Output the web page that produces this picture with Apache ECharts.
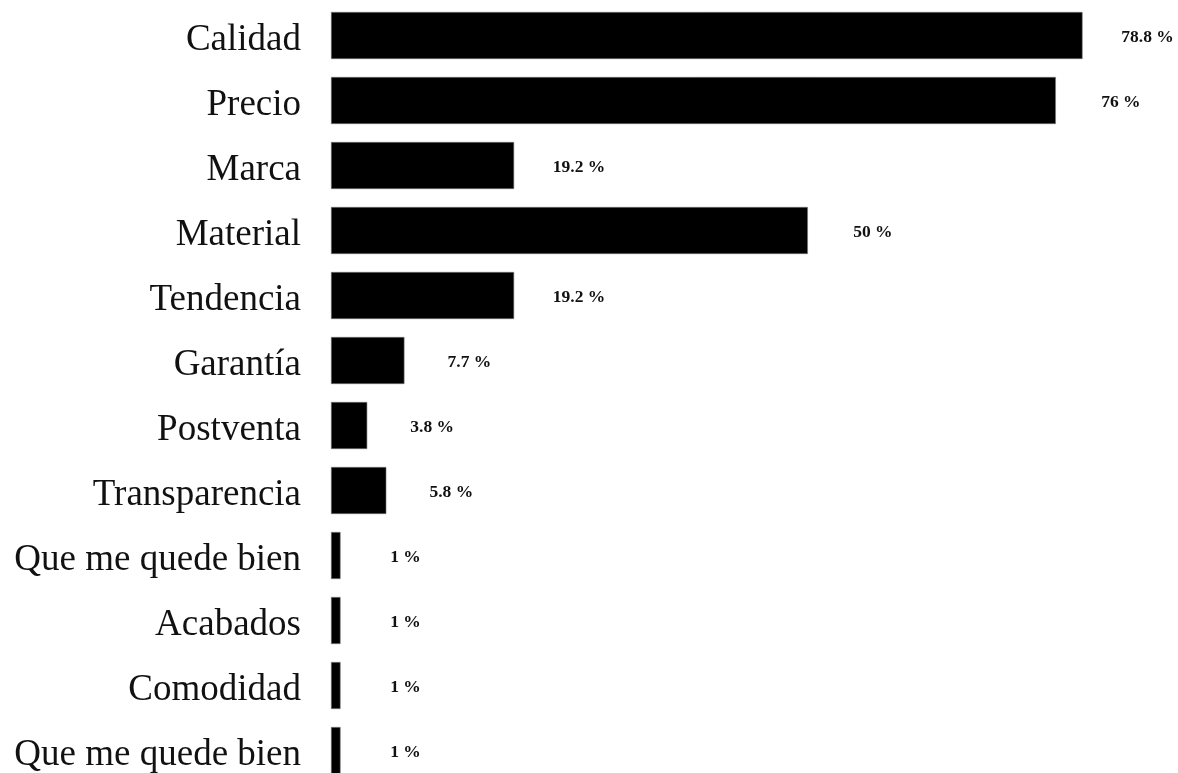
<!DOCTYPE html>
<html>
<head>
<meta charset="utf-8">
<script src="https://cdn.jsdelivr.net/npm/echarts@6/dist/echarts.min.js"></script>
<style>
  html, body { margin: 0; padding: 0; background: #fff; overflow: hidden; height: 773px; }
  /* the last row runs past the bottom edge, so the canvas is taller than the page */
  #chart { width: 1178px; height: 790px; }
</style>
</head>
<body>
<div id="chart"></div>
<script>
// Factores de compra (top to bottom)
const categories = [
  'Calidad', 'Precio', 'Marca', 'Material', 'Tendencia', 'Garantía',
  'Postventa', 'Transparencia', 'Que me quede bien', 'Acabados',
  'Comodidad', 'Que me quede bien'
];
const values = [78.8, 76, 19.2, 50, 19.2, 7.7, 3.8, 5.8, 1, 1, 1, 1];

const serif = '"Liberation Serif", "Times New Roman", serif';

const chart = echarts.init(document.getElementById('chart'));
chart.setOption({
  backgroundColor: '#ffffff',
  animation: false,
  textStyle: { fontFamily: serif },
  grid: { left: 331, top: 3, width: 763, height: 780, containLabel: false },
  xAxis: {
    type: 'value',
    min: 0,
    max: 80,
    show: false
  },
  yAxis: {
    type: 'category',
    data: categories.map((c, i) => String(i)),
    inverse: true,
    axisLine: { show: false },
    axisTick: { show: false },
    splitLine: { show: false },
    axisLabel: {
      margin: 30,
      fontSize: 37,
      color: '#111',
      fontFamily: serif,
      formatter: (v) => '{t|' + categories[+v] + '}',
      rich: {
        t: { fontSize: 37, color: '#111', fontFamily: serif, padding: [10, 0, 0, 0] }
      }
    }
  },
  series: [{
    type: 'bar',
    data: values,
    barWidth: 47,
    itemStyle: { color: '#000', borderColor: '#777', borderWidth: 0.6 },
    label: {
      show: true,
      position: 'right',
      distance: 65,
      align: 'center',
      offset: [0, 2],
      fontSize: 17.5,
      fontWeight: 'bold',
      color: '#111',
      fontFamily: serif,
      formatter: (p) => p.value + ' %'
    }
  }]
});
</script>
</body>
</html>
